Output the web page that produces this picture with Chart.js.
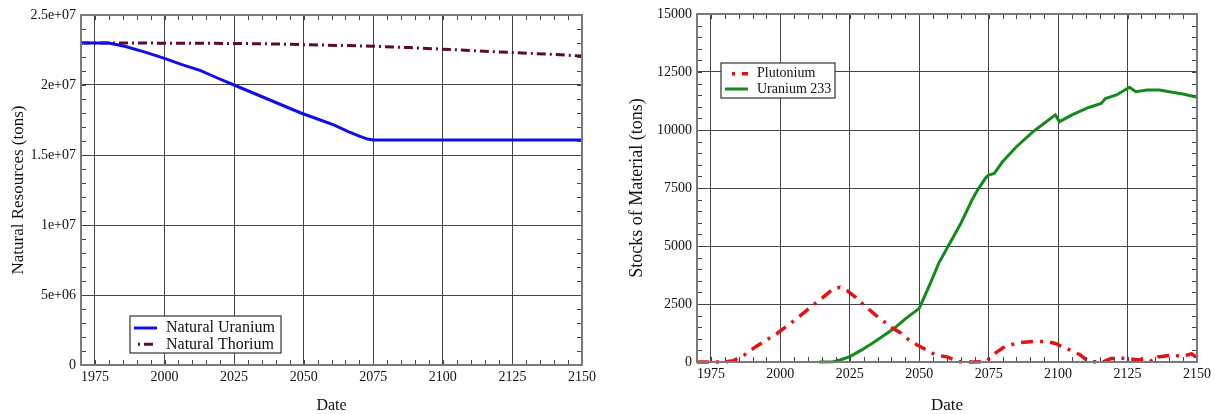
<!DOCTYPE html>
<html>
<head>
<meta charset="utf-8">
<script src="https://cdn.jsdelivr.net/npm/chart.js@4.4.0/dist/chart.umd.min.js"></script>
<style>
  html, body { margin: 0; padding: 0; background: #fff; }
  #left { position: absolute; left: 0; top: 0; }
  #right { position: absolute; left: 600px; top: 0; }
</style>
</head>
<body>
<canvas id="left" width="600" height="414"></canvas>
<canvas id="right" width="615" height="414"></canvas>
<script>
// shared date axis
const xTicks = [1975, 2000, 2025, 2050, 2075, 2100, 2125, 2150];

// left panel: natural resources
const resourceTicks = [0, 5e6, 1e7, 1.5e7, 2e7, 2.5e7];
const resourceTickLabels = ['0', '5e+06', '1e+07', '1.5e+07', '2e+07', '2.5e+07'];

const uraniumYears = [1970, 1980, 1986, 1993, 2000, 2006, 2013, 2019, 2025, 2031, 2037,
  2043, 2049, 2055, 2061, 2066, 2070, 2073, 2075, 2100, 2125, 2150];
const uraniumTons = [2.30e7, 2.30e7, 2.275e7, 2.235e7, 2.19e7, 2.147e7, 2.103e7, 2.05e7,
  2.0e7, 1.95e7, 1.90e7, 1.85e7, 1.80e7, 1.757e7, 1.713e7, 1.667e7, 1.635e7, 1.614e7,
  1.607e7, 1.607e7, 1.607e7, 1.607e7];

const thoriumYears = [1970, 2000, 2025, 2040, 2050, 2062, 2075, 2088, 2100, 2112, 2125, 2138, 2150];
const thoriumTons = [2.30e7, 2.299e7, 2.297e7, 2.293e7, 2.288e7, 2.283e7, 2.277e7, 2.267e7,
  2.256e7, 2.244e7, 2.232e7, 2.22e7, 2.207e7];

// right panel: stocks
const stockTicks = [0, 2500, 5000, 7500, 10000, 12500, 15000];
const stockTickLabels = ['0', '2500', '5000', '7500', '10000', '12500', '15000'];

const plutoniumYears = [1970, 1980, 1983, 1987, 1991, 1995, 1999, 2003, 2007, 2011, 2015,
  2019, 2021.5, 2024, 2027, 2030, 2035, 2040.5, 2043.5, 2047, 2051.5, 2056, 2060, 2064, 2069.5,
  2074, 2078, 2081, 2086, 2091, 2096, 2099, 2103, 2108, 2111, 2116, 2119, 2124, 2129, 2132,
  2134, 2136, 2141, 2145, 2148, 2150];
const plutoniumTons = [0, 0, 50, 300, 650, 950, 1250, 1600, 1980, 2380, 2750,
  3150, 3220, 3080, 2800, 2460, 1950, 1450, 1240, 875, 590, 300, 220, 15, 0,
  15, 440, 680, 830, 880, 880, 800, 590, 300, 20, 0, 150, 160, 90, 160,
  10, 220, 300, 230, 360, 180];

const u233Years = [2014, 2019, 2021.5, 2025, 2029, 2033, 2037, 2041, 2045, 2050,
  2054, 2057, 2061, 2065, 2069, 2071, 2074, 2075, 2077, 2080, 2085, 2091, 2095, 2099, 2100.5,
  2105, 2111, 2115.5, 2117, 2121, 2125.7, 2128, 2132, 2136.5, 2140, 2145, 2150];
const u233Tons = [0, 10, 86, 230, 500, 800, 1120, 1450, 1860, 2310,
  3390, 4250, 5120, 5980, 6980, 7410, 7950, 8060, 8130, 8630, 9280, 9930, 10290, 10650, 10360,
  10650, 10970, 11140, 11360, 11510, 11840, 11650, 11720, 11720, 11650, 11550, 11410];

Chart.defaults.font.family = '"Liberation Serif", "Times New Roman", serif';
Chart.defaults.color = '#111';

const toPoints = (xs, ys) => xs.map((x, i) => ({ x, y: ys[i] }));

// minor ticks + grey frame around the plot area
const framePlugin = {
  id: 'frame',
  afterDatasetsDraw(chart, args, opts) {
    const { ctx, chartArea: a, scales } = chart;
    ctx.save();
    ctx.strokeStyle = '#444';
    ctx.lineWidth = 1;
    ctx.beginPath();
    for (let v = scales.x.min; v <= scales.x.max; v += opts.xStep) {
      const px = Math.round(scales.x.getPixelForValue(v)) + 0.5;
      ctx.moveTo(px, a.top); ctx.lineTo(px, a.top + 5);
      ctx.moveTo(px, a.bottom); ctx.lineTo(px, a.bottom - 5);
    }
    for (let v = scales.y.min; v <= scales.y.max; v += opts.yStep) {
      const py = Math.round(scales.y.getPixelForValue(v)) + 0.5;
      ctx.moveTo(a.left, py); ctx.lineTo(a.left + 5, py);
      ctx.moveTo(a.right, py); ctx.lineTo(a.right - 5, py);
    }
    ctx.stroke();
    ctx.strokeStyle = '#7a7a7a';
    ctx.lineWidth = 2;
    ctx.strokeRect(a.left, a.top, a.width, a.height);
    ctx.restore();
  },
};

// boxed legend inside the plot
const boxLegend = {
  id: 'boxLegend',
  afterDraw(chart, args, opts) {
    const { ctx, chartArea: a } = chart;
    const x = a.left + opts.left;
    const y = a.top + opts.top;
    ctx.save();
    ctx.fillStyle = '#fff';
    ctx.fillRect(x, y, opts.width, opts.height);
    ctx.strokeStyle = '#333';
    ctx.lineWidth = 1.2;
    ctx.strokeRect(x, y, opts.width, opts.height);
    ctx.font = `${opts.fontSize}px "Liberation Serif"`;
    ctx.textBaseline = 'middle';
    chart.data.datasets.forEach((ds, i) => {
      const ly = y + opts.firstRow + i * opts.rowGap;
      ctx.strokeStyle = ds.borderColor;
      ctx.lineWidth = ds.borderWidth;
      ctx.setLineDash(ds.borderDash || []);
      ctx.lineDashOffset = opts.dashOffset;
      ctx.beginPath();
      ctx.moveTo(x + 4, ly);
      ctx.lineTo(x + 27, ly);
      ctx.stroke();
      ctx.setLineDash([]);
      ctx.fillStyle = '#111';
      ctx.fillText(ds.label, x + opts.textX, ly);
    });
    ctx.restore();
  },
};

function makeChart(canvas, cfg) {
  return new Chart(canvas, {
    type: 'line',
    data: { datasets: cfg.datasets },
    plugins: [framePlugin, boxLegend],
    options: {
      responsive: false,
      animation: false,
      devicePixelRatio: 1,
      layout: { padding: cfg.padding },
      elements: { point: { radius: 0 }, line: { tension: 0 } },
      plugins: {
        legend: { display: false },
        tooltip: { enabled: false },
        frame: cfg.frame,
        boxLegend: cfg.legend,
      },
      scales: {
        x: {
          type: 'linear',
          min: 1970,
          max: 2150,
          afterBuildTicks: (s) => { s.ticks = xTicks.map((value) => ({ value })); },
          afterFit: (s) => { s.height = cfg.xHeight; },
          grid: { color: '#444', drawTicks: false },
          border: { display: false },
          ticks: { font: { size: 14 }, padding: 4, maxRotation: 0, callback: (v) => String(v) },
          title: {
            display: true, text: 'Date', font: { size: cfg.xTitleSize, lineHeight: 1 }, padding: { top: cfg.xTitlePad, bottom: 0 },
          },
        },
        y: {
          min: cfg.yTicks[0],
          max: cfg.yTicks[cfg.yTicks.length - 1],
          afterBuildTicks: (s) => { s.ticks = cfg.yTicks.map((value) => ({ value })); },
          afterFit: (s) => { s.width = cfg.yWidth; },
          grid: { color: '#444', drawTicks: false },
          border: { display: false },
          ticks: { font: { size: 14 }, padding: 5, callback: (v, i) => cfg.yLabels[i] },
          title: {
            display: true, text: cfg.yTitle, font: { size: cfg.yTitleSize }, padding: { top: cfg.yTitlePad, bottom: 0 },
          },
        },
      },
    },
  });
}

makeChart(document.getElementById('left'), {
  datasets: [
    {
      label: 'Natural Uranium',
      data: toPoints(uraniumYears, uraniumTons),
      borderColor: '#1010e6',
      borderWidth: 3,
      clip: 3,
    },
    {
      label: 'Natural Thorium',
      data: toPoints(thoriumYears, thoriumTons),
      borderColor: '#5e0a32',
      borderWidth: 3,
      borderDash: [9, 4, 2, 4],
      clip: 3,
    },
  ],
  padding: { top: 15, right: 17, left: 0, bottom: 0 },
  xHeight: 49,
  xTitlePad: 0,
  xTitleSize: 16,
  yWidth: 81,
  yTitlePad: 8.5,
  yTitleSize: 17,
  yTicks: resourceTicks,
  yLabels: resourceTickLabels,
  yTitle: 'Natural Resources (tons)',
  frame: { xStep: 5, yStep: 1e6 },
  legend: {
    left: 49, top: 301, width: 151, height: 37, firstRow: 12, rowGap: 16.3,
    textX: 36, fontSize: 16, dashOffset: 9,
  },
});

makeChart(document.getElementById('right'), {
  datasets: [
    {
      label: 'Plutonium',
      data: toPoints(plutoniumYears, plutoniumTons),
      borderColor: '#e01414',
      borderWidth: 3.5,
      borderDash: [12, 7, 3, 7],
      clip: 4,
    },
    {
      label: 'Uranium 233',
      data: toPoints(u233Years, u233Tons),
      borderColor: '#15891a',
      borderWidth: 3,
      clip: 4,
    },
  ],
  padding: { top: 14, right: 18, left: 0, bottom: 0 },
  xHeight: 52,
  xTitlePad: 3,
  xTitleSize: 17,
  yWidth: 97,
  yTitlePad: 26,
  yTitleSize: 18,
  yTicks: stockTicks,
  yLabels: stockTickLabels,
  yTitle: 'Stocks of Material (tons)',
  frame: { xStep: 5, yStep: 500 },
  legend: {
    left: 24, top: 49, width: 114, height: 35, firstRow: 10.7, rowGap: 15.3,
    textX: 36, fontSize: 14, dashOffset: 12,
  },
});
</script>
</body>
</html>
